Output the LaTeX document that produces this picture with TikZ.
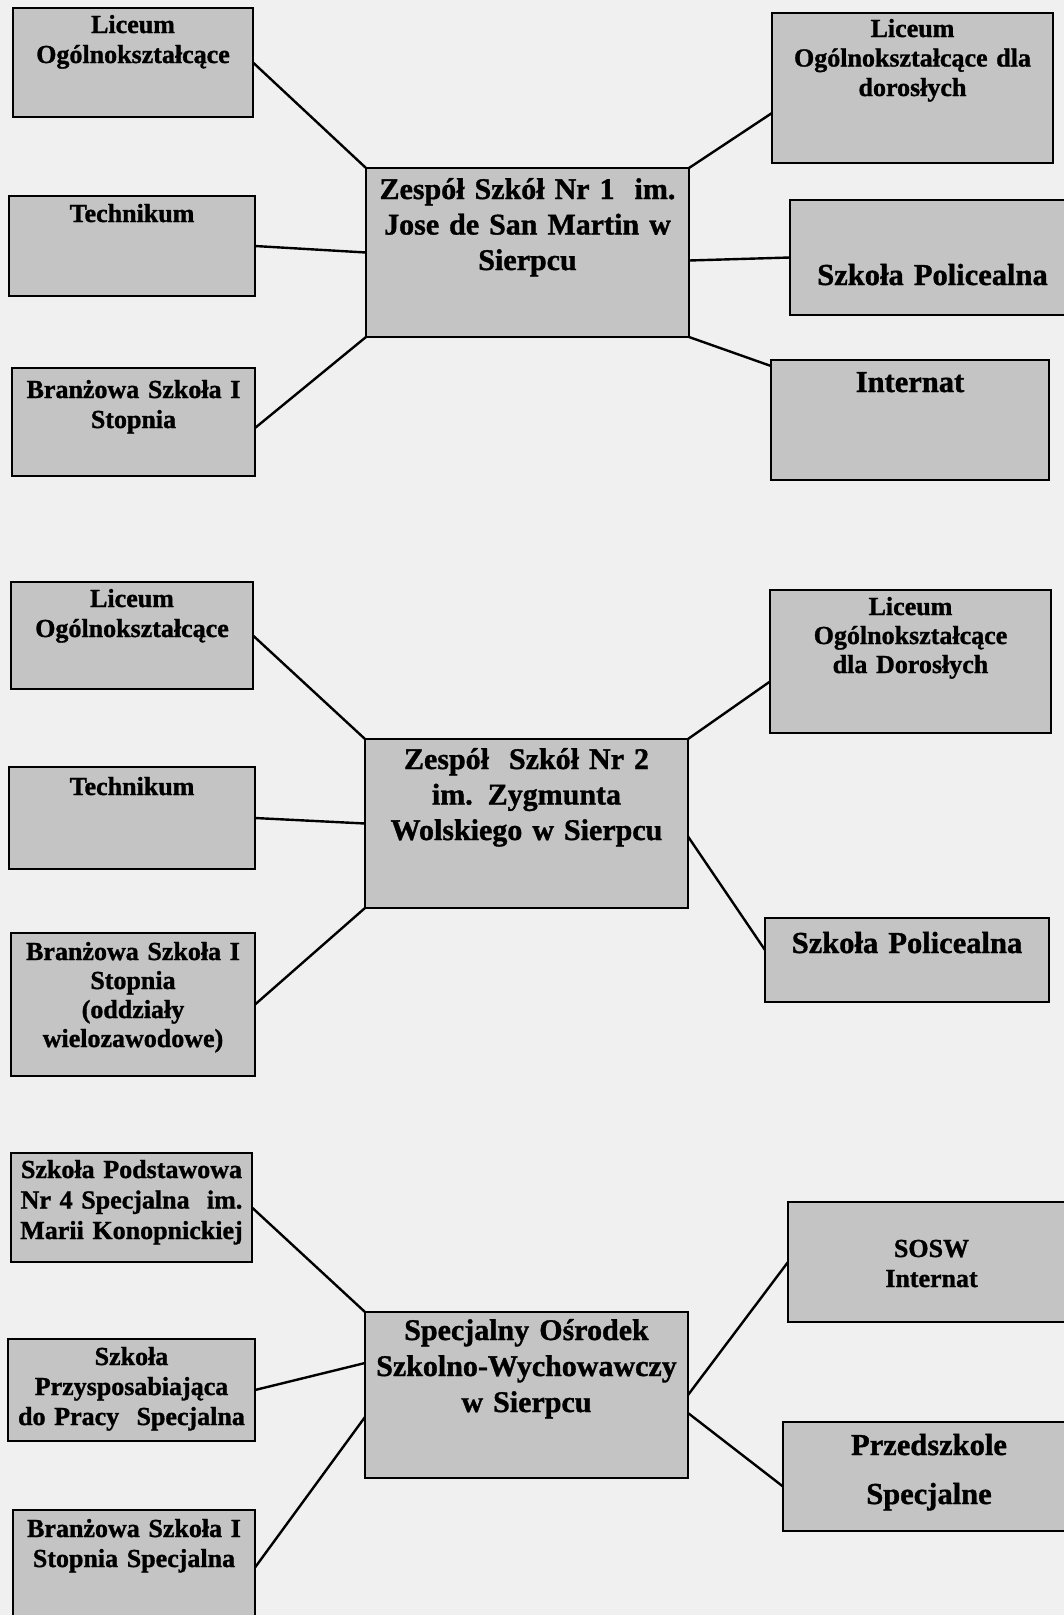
\documentclass[tikz,border=0pt]{standalone}
\usepackage{fontspec}
\setmainfont{Liberation Serif}[BoldFeatures={FakeBold=1.2}]

\definecolor{boxgray}{gray}{0.77}
\definecolor{paper}{gray}{0.94}

\begin{document}
\begin{tikzpicture}
    [x=1pt, y=-1pt,
    school/.style={rectangle, draw=black, line width=2.6pt, fill=boxgray, inner sep=0pt, outer sep=0pt, anchor=north west, align=center, font=\bfseries\fontsize{26}{30}\selectfont},
    hub/.style={school, font=\bfseries\fontsize{30}{35.5}\selectfont},
    bigschool/.style={school, font=\bfseries\fontsize{30.5}{36}\selectfont},
    link/.style={line width=2.4pt},]

    \useasboundingbox (0,0) rectangle (1064,1615);
    \clip (0,0) rectangle (1064,1615);
    \fill[paper] (0,0) rectangle (1064,1615);

    %Nodes - Zespol Szkol Nr 1
    \node[hub, text width=323pt, text height=31pt, text depth=138pt](c1) at (366,168) {Zespół Szkół Nr 1~ im.\\Jose de San Martin w\\Sierpcu};
    \node[school, text width=240pt, text height=25pt, text depth=84pt](lo1) at (13,8) {Liceum\\Ogólnokształcące};
    \node[school, text width=246pt, text height=26pt, text depth=74pt](tech1) at (9,196) {Technikum};
    \node[school, text width=243pt, text height=30pt, text depth=78pt](br1) at (12,368) {Branżowa Szkoła I\\Stopnia};
    \node[school, text width=281pt, text height=24pt, text depth=126pt, font=\bfseries\fontsize{26}{29.5}\selectfont](lod1) at (772,13) {Liceum\\Ogólnokształcące dla\\dorosłych};
    \node[bigschool, text width=285pt, text height=85pt, text depth=30pt](sp1) at (790,200) {Szkoła Policealna};
    \node[bigschool, text width=278pt, text height=32pt, text depth=88pt](int1) at (771,360) {Internat};

    %Nodes - Zespol Szkol Nr 2
    \node[hub, text width=323pt, text height=30pt, text depth=139pt](c2) at (365,739) {Zespół~ Szkół Nr 2\\im. Zygmunta\\Wolskiego w Sierpcu};
    \node[school, text width=242pt, text height=25pt, text depth=82pt](lo2) at (11,582) {Liceum\\Ogólnokształcące};
    \node[school, text width=246pt, text height=28pt, text depth=74pt](tech2) at (9,767) {Technikum};
    \node[school, text width=244pt, text height=27pt, text depth=116pt, font=\bfseries\fontsize{26}{29}\selectfont](br2) at (11,933) {Branżowa Szkoła I\\Stopnia\\(oddziały\\wielozawodowe)};
    \node[school, text width=281pt, text height=25pt, text depth=118pt, font=\bfseries\fontsize{26}{29}\selectfont](lod2) at (770,590) {Liceum\\Ogólnokształcące\\dla Dorosłych};
    \node[bigschool, text width=284pt, text height=35pt, text depth=49pt](sp2) at (765,918) {Szkoła Policealna};

    %Nodes - SOSW
    \node[hub, text width=323pt, text height=28pt, text depth=138pt, font=\bfseries\fontsize{30}{36}\selectfont](c3) at (365,1312) {Specjalny Ośrodek\\Szkolno-Wychowawczy\\w Sierpcu};
    \node[school, text width=241pt, text height=25pt, text depth=84pt, font=\bfseries\fontsize{26}{30.5}\selectfont](sp4) at (11,1153) {Szkoła Podstawowa\\Nr 4 Specjalna~ im.\\Marii Konopnickiej};
    \node[school, text width=247pt, text height=26pt, text depth=76pt](spp) at (8,1339) {Szkoła\\Przysposabiająca\\do Pracy~ Specjalna};
    \node[school, text width=242pt, text height=27pt, text depth=88pt](br3) at (13,1510) {Branżowa Szkoła I\\Stopnia Specjalna};
    \node[school, text width=287pt, text height=55pt, text depth=65pt](sosw) at (788,1202) {SOSW\\Internat};
    \node[school, text width=292pt, text height=33pt, text depth=76pt, font=\bfseries\fontsize{30.5}{49}\selectfont](przed) at (783,1422) {Przedszkole\\Specjalne};

    %Lines
    \draw[link](lo1.east)--(c1.north west);
    \draw[link](tech1.east)--(c1.west);
    \draw[link]([yshift=-6pt]br1.east)--(c1.south west);
    \draw[link](c1.north east)--([yshift=-25pt]lod1.west);
    \draw[link]([yshift=-8pt]c1.east)--(sp1.west);
    \draw[link](c1.south east)--([yshift=-6pt]int1.north west);

    \draw[link](lo2.east)--(c2.north west);
    \draw[link](tech2.east)--(c2.west);
    \draw[link](br2.east)--(c2.south west);
    \draw[link](c2.north east)--([yshift=-20pt]lod2.west);
    \draw[link]([yshift=-13pt]c2.east)--([yshift=10pt]sp2.west);

    \draw[link](sp4.east)--(c3.north west);
    \draw[link](spp.east)--([yshift=32pt]c3.west);
    \draw[link](br3.east)--([yshift=-22pt]c3.west);
    \draw[link](c3.east)--(sosw.west);
    \draw[link]([yshift=-18pt]c3.east)--([yshift=-10pt]przed.west);
\end{tikzpicture}
\end{document}
